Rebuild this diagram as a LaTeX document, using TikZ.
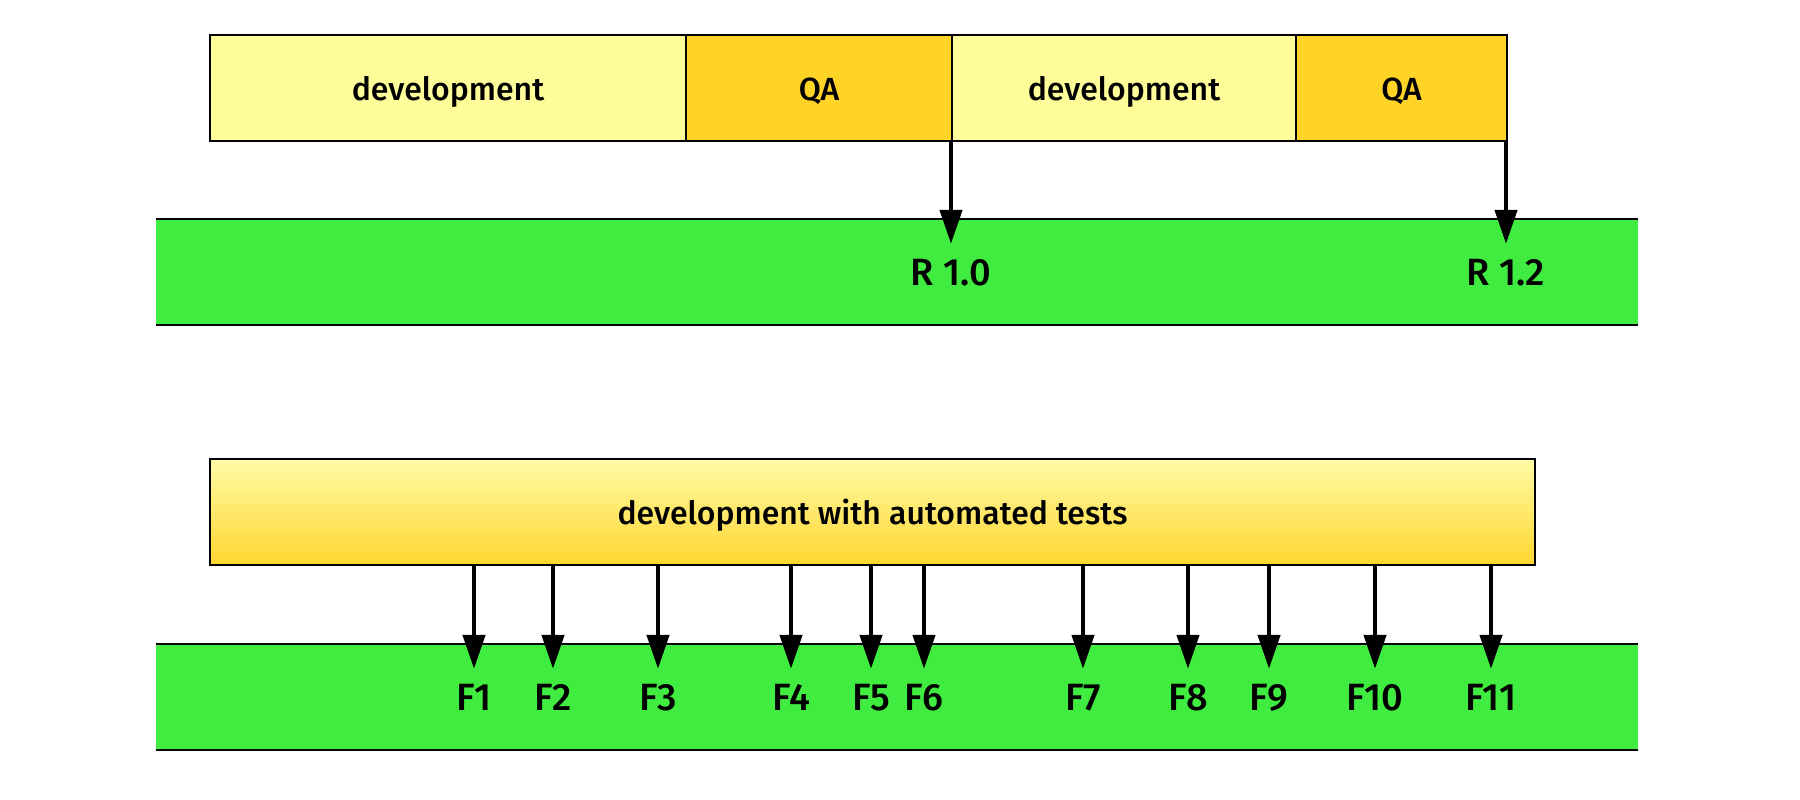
\documentclass[tikz,border=0pt]{standalone}
\usepackage{fontspec}
\setmainfont{Fira Sans}[UprightFont=* Medium]
\usetikzlibrary{arrows.meta}
\definecolor{devyellow}{RGB}{255,253,153}
\definecolor{qagold}{RGB}{255,212,38}
\definecolor{bandgreen}{RGB}{63,236,63}
\definecolor{gradtop}{RGB}{255,251,165}
\definecolor{gradbot}{RGB}{255,214,48}

\begin{document}
\begin{tikzpicture}[x=1pt,y=-1pt,
  phase/.style={draw=black, line width=2pt, minimum height=106pt, inner sep=0pt,
    text height=65pt, text depth=41pt,
    anchor=north west, font=\fontsize{32}{36}\selectfont},
  dev/.style={phase, fill=devyellow},
  qa/.style={phase, fill=qagold},
  auto dev/.style={phase, top color=gradtop, bottom color=gradbot},
  band/.style={fill=bandgreen, draw=none, minimum width=1482pt, minimum height=106pt,
    inner sep=0pt, anchor=north west},
  bandline/.style={line width=2pt},
  rel/.style={line width=4.5pt, -{Triangle[length=34pt,width=22pt]}},
  lbl/.style={inner sep=0pt, anchor=base, text height=41pt, text depth=0pt,
    font=\fontsize{38}{42}\selectfont},
]
\useasboundingbox (0,0) rectangle (1800,800);

% --- release cycle with a separate QA phase ---
\node[dev, minimum width=476pt] (dev1) at (209,34) {development};
\node[qa,  minimum width=266pt] (qa1)  at (685,34) {QA};
\node[dev, minimum width=344pt] (dev2) at (951,34) {development};
\node[qa,  minimum width=211pt] (qa2)  at (1295,34) {QA};

\node[band] (band1) at (156,219) {};
\draw[bandline] (band1.north west) -- (band1.north east);
\draw[bandline] (band1.south west) -- (band1.south east);

\node[lbl] (r10) at (951,285) {R 1.0};
\node[lbl] (r12) at (1506,285) {R 1.2};
\draw[rel] (qa1.south -| r10.north) -- (r10.north);
\draw[rel] (qa2.south -| r12.north) -- (r12.north);

% --- continuous delivery ---
\node[auto dev, minimum width=1325pt] (cd) at (209,458) {development with automated tests};

\node[band] (band2) at (156,644) {};
\draw[bandline] (band2.north west) -- (band2.north east);
\draw[bandline] (band2.south west) -- (band2.south east);

\foreach \x [count=\i] in {474,553,658,791,871,924,1083,1188,1269,1375,1491} {
  \node[lbl] (f\i) at (\x,710) {F\i};
  \draw[rel] (cd.south -| f\i) -- (f\i.north);
}
\end{tikzpicture}
\end{document}
